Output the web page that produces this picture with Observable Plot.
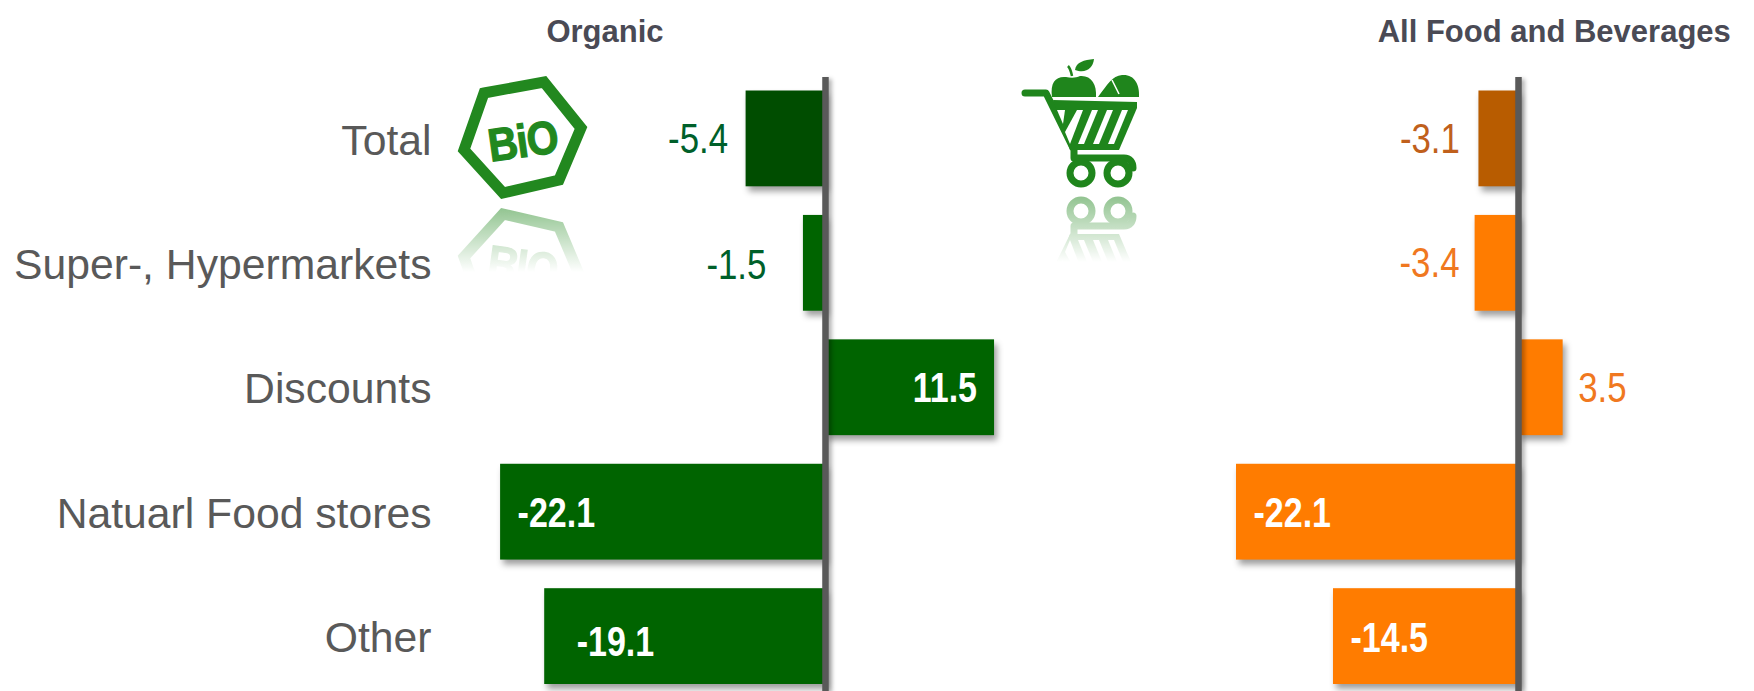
<!DOCTYPE html>
<html>
<head>
<meta charset="utf-8">
<script src="https://cdn.jsdelivr.net/npm/d3@7"></script>
<script src="https://cdn.jsdelivr.net/npm/@observablehq/plot@0.6"></script>
<style>
html,body{margin:0;padding:0;background:#fff;}
#chart{position:relative;width:1754px;height:691px;overflow:hidden;background:#fff;}
#chart svg{position:absolute;left:0;top:0;background:transparent;max-width:none;}
</style>
</head>
<body>
<div id="chart">
<svg id="icons" width="1754" height="691" viewBox="0 0 1754 691">
  <defs>
    <linearGradient id="fadeBio" gradientUnits="userSpaceOnUse" x1="0" y1="207" x2="0" y2="272">
      <stop offset="0" stop-color="#fff" stop-opacity="0.5"/><stop offset="1" stop-color="#fff" stop-opacity="0"/>
    </linearGradient>
    <linearGradient id="fadeCart" gradientUnits="userSpaceOnUse" x1="0" y1="195" x2="0" y2="262">
      <stop offset="0" stop-color="#fff" stop-opacity="0.5"/><stop offset="1" stop-color="#fff" stop-opacity="0"/>
    </linearGradient>
    <mask id="maskBio" maskUnits="userSpaceOnUse" x="440" y="203" width="170" height="80"><rect x="440" y="203" width="170" height="80" fill="url(#fadeBio)"/></mask>
    <mask id="maskCart" maskUnits="userSpaceOnUse" x="1010" y="190" width="140" height="80"><rect x="1010" y="190" width="140" height="80" fill="url(#fadeCart)"/></mask>
    <g id="bioShape">
      <path d="M484,93 L544,82 L581,128 L559,180 L503,193 L464,150 Z" fill="none" stroke="#22881f" stroke-width="11" stroke-linejoin="miter"/>
      <g transform="rotate(-8 523 142) translate(523 157) scale(0.95 1.08)"><text x="0" y="0" text-anchor="middle" font-family="Liberation Sans" font-weight="700" font-size="43" letter-spacing="-1" fill="#22881f" stroke="#22881f" stroke-width="1.2">BiO</text></g>
    </g>
    <g id="cartShape">
      <path d="M1025,93 L1046,93 L1074,150 L1074,158 L1124,158 C1130,158 1133,162 1133,168" fill="none" stroke="#1f851c" stroke-width="7" stroke-linecap="round" stroke-linejoin="round"/>
      <path d="M1053,100 L1137,102 L1137,108 L1119,150 L1070,150 Z" fill="#1f851c"/>
      <g fill="#fff">
        <path d="M1057,110 L1065,110 L1063,124 Z"/>
        <path d="M1077,110 L1083,110 L1070,144 L1065,132 Z"/>
        <path d="M1092,110 L1098,110 L1084,144 L1078,144 Z"/>
        <path d="M1107,110 L1113,110 L1099,144 L1093,144 Z"/>
        <path d="M1122,110 L1128,110 L1114,144 L1108,144 Z"/>
      </g>
      <circle cx="1081" cy="173" r="11" fill="none" stroke="#1f851c" stroke-width="7"/>
      <circle cx="1118" cy="173" r="11" fill="none" stroke="#1f851c" stroke-width="7"/>
      <path d="M1052,97 C1050,82 1056,76 1066,77 C1071,78 1076,78 1080,76 C1091,75 1097,84 1096,97 Z" fill="#1f851c"/>
      <path d="M1072,76 C1071,71 1070,68 1068,66" fill="none" stroke="#1f851c" stroke-width="2.5"/>
      <path d="M1075,70 C1076,62 1084,60 1094,59 C1093,68 1086,74 1075,70 Z" fill="#1f851c"/>
      <path d="M1098,97 C1108,84 1112,76 1122,75 C1134,74 1140,84 1139,97 Z" fill="#1f851c"/>
      <path d="M1112,80 L1119,94" stroke="#fff" stroke-width="1.5" fill="none"/>
    </g>
  </defs>
  <use href="#bioShape"/>
  <g mask="url(#maskBio)"><g transform="translate(0,407) scale(1,-1)"><use href="#bioShape"/></g></g>
  <use href="#cartShape"/>
  <g mask="url(#maskCart)"><g transform="translate(0,384) scale(1,-1)"><use href="#cartShape"/></g></g>
</svg>
</div>
<script>
const categories = ["Total", "Super-, Hypermarkets", "Discounts", "Natuarl Food stores", "Other"];
const organicValues = [-5.4, -1.5, 11.5, -22.1, -19.1];
const allFoodValues = [-3.1, -3.4, 3.5, -22.1, -14.5];
const panelTitles = ["Organic", "All Food and Beverages"];

const sans = "Liberation Sans, Arial, sans-serif";
const gray = "#595959";
const shadow = "drop-shadow(3px 5px 3px rgba(0,0,0,0.38))";

function panel({values, domain, marginLeft, marginRight, colors, title, titleX, labels, showCategories}) {
  const idx = d3.range(categories.length);
  const label = ([i, anchor, dx, dy, fill, weight]) => Plot.text([i], {
    x: j => values[j], y: j => categories[j], text: j => values[j].toFixed(1),
    textAnchor: anchor, dx, dy, fill, fontWeight: weight, fontFamily: sans, fontSize: 41
  });
  const svg = Plot.plot({
    width: 1754, height: 691,
    marginTop: 90.5, marginBottom: 7, marginLeft, marginRight,
    x: {domain, axis: null},
    y: {domain: categories, paddingInner: 0.23, paddingOuter: 0, axis: null, round: false},
    style: {background: "transparent", overflow: "visible"},
    marks: [
      Plot.barX(idx, {x1: () => 0, x2: i => values[i], y: i => categories[i], fill: i => colors[i], imageFilter: shadow}),
      Plot.ruleX([0], {stroke: gray, strokeWidth: 6.5, insetTop: -13.5, insetBottom: -7, imageFilter: "drop-shadow(3px 2px 2px rgba(0,0,0,0.3))"}),
      ...labels.map(label),
      Plot.text([title], {x: () => titleX, frameAnchor: "top", dy: -71, text: d => d, fontFamily: sans, fontWeight: 700, fontSize: 31, fill: "#4a4a55"}),
      ...(showCategories ? [Plot.axisY(categories, {
        anchor: "left", tickSize: 0, tickPadding: 0, label: null, lineWidth: Infinity, dy: 2,
        fontSize: 42.7, fontFamily: sans, fill: gray
      })] : [])
    ]
  });
  // the reference's value labels are set in a narrow face
  svg.querySelectorAll("text").forEach(t => {
    if (/^-?\d+\.\d$/.test(t.textContent.trim())) {
      const bold = t.parentNode.getAttribute("font-weight") === "700" || t.getAttribute("font-weight") === "700";
      t.setAttribute("transform", (t.getAttribute("transform") || "") + (bold ? " scale(0.83,1.02)" : " scale(0.85,1.02)"));
    }
  });
  return svg;
}

const green = "#006400", darkGreen = "#004d00", orange = "#ff7c00", darkOrange = "#b85c00";
const chart = document.getElementById("chart");

chart.append(panel({
  values: organicValues, domain: [-26.8, 15], marginLeft: 431, marginRight: 708.5,
  colors: [darkGreen, green, green, green, green],
  title: panelTitles[0], titleX: -15, showCategories: true,
  labels: [
    [0, "end", -18, 1, "#00602a", 400],
    [1, "end", -37, 2, "#00602a", 400],
    [2, "end", -17.5, 1, "#fff", 700],
    [3, "start", 17, 1, "#fff", 700],
    [4, "start", 32, 6, "#fff", 700]
  ]
}));
chart.append(panel({
  values: allFoodValues, domain: [-25, 10], marginLeft: 1199, marginRight: 108.4,
  colors: [darkOrange, orange, orange, orange, orange],
  title: panelTitles[1], titleX: 2.8, showCategories: false,
  labels: [
    [0, "end", -19, 1, "#c0601c", 400],
    [1, "end", -15.6, 0, "#f07820", 400],
    [2, "start", 15, 1, "#f07820", 400],
    [3, "start", 17, 1, "#fff", 700],
    [4, "start", 17, 2, "#fff", 700]
  ]
}));
</script>
</body>
</html>
